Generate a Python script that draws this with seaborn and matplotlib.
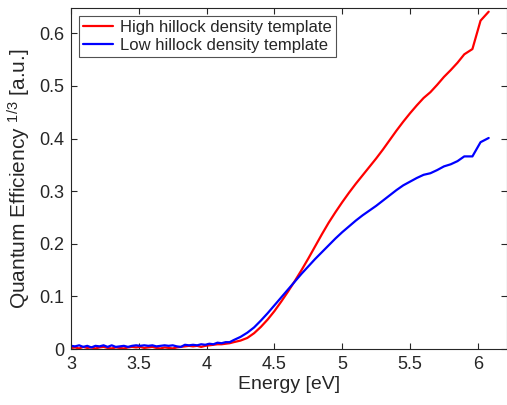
import numpy as np
import pandas as pd
import matplotlib
matplotlib.use("Agg")
import matplotlib.pyplot as plt
import seaborn as sns

energy = [3.00, 3.03, 3.06, 3.09, 3.12, 3.15, 3.18, 3.21, 3.24, 3.27, 3.30, 3.33, 3.36, 3.39,
          3.42, 3.45, 3.48, 3.51, 3.54, 3.57, 3.60, 3.63, 3.66, 3.69, 3.72, 3.75, 3.78, 3.81,
          3.84, 3.87, 3.90, 3.93, 3.96, 3.99, 4.02, 4.05, 4.08, 4.11, 4.14, 4.17, 4.20,
          4.25, 4.30, 4.35, 4.40, 4.45, 4.50, 4.55, 4.60, 4.65, 4.70, 4.75, 4.80, 4.85,
          4.90, 4.95, 5.00, 5.05, 5.10, 5.15, 5.20, 5.25, 5.30, 5.35, 5.40, 5.45, 5.50,
          5.55, 5.60, 5.65, 5.70, 5.75, 5.80, 5.85, 5.90, 5.96, 6.02, 6.08]

high_density = [0.002, 0.003, 0.001, 0.004, 0.002, 0.003, 0.001, 0.003, 0.004, 0.002, 0.001,
                0.003, 0.002, 0.001, 0.003, 0.004, 0.003, 0.004, 0.002, 0.003, 0.004, 0.002,
                0.001, 0.003, 0.002, 0.001, 0.003, 0.004, 0.005, 0.006, 0.005, 0.006, 0.004,
                0.006, 0.007, 0.008, 0.009, 0.009, 0.010, 0.011, 0.013,
                0.016, 0.021, 0.030, 0.042, 0.056, 0.072, 0.090, 0.109, 0.129, 0.150, 0.172,
                0.195, 0.218, 0.240, 0.260, 0.279, 0.297, 0.314, 0.330, 0.346, 0.362, 0.379,
                0.397, 0.415, 0.432, 0.448, 0.463, 0.477, 0.488, 0.502, 0.517, 0.530, 0.544,
                0.560, 0.570, 0.624, 0.641]

low_density = [0.006, 0.005, 0.007, 0.004, 0.006, 0.003, 0.006, 0.005, 0.007, 0.004, 0.007,
               0.004, 0.005, 0.006, 0.004, 0.006, 0.007, 0.006, 0.007, 0.006, 0.007, 0.005,
               0.006, 0.007, 0.006, 0.007, 0.005, 0.004, 0.008, 0.007, 0.008, 0.007, 0.009,
               0.008, 0.010, 0.009, 0.012, 0.011, 0.013, 0.013, 0.017,
               0.023, 0.031, 0.041, 0.054, 0.068, 0.083, 0.098, 0.113, 0.128, 0.143, 0.157,
               0.171, 0.184, 0.197, 0.210, 0.222, 0.233, 0.244, 0.254, 0.263, 0.272, 0.282,
               0.292, 0.302, 0.311, 0.318, 0.325, 0.331, 0.334, 0.340, 0.347, 0.351, 0.357,
               0.366, 0.366, 0.393, 0.401]

labels = ["High hillock density template", "Low hillock density template"]

df = pd.DataFrame({
    "Energy": energy * 2,
    "QE": high_density + low_density,
    "Sample": [labels[0]] * len(energy) + [labels[1]] * len(energy),
})

sns.set_style("white")
plt.rcParams["font.family"] = ["Liberation Sans", "DejaVu Sans"]
plt.rcParams["mathtext.fontset"] = "custom"
plt.rcParams["mathtext.rm"] = "Liberation Sans"
plt.rcParams["mathtext.it"] = "Liberation Sans"

fig = plt.figure(figsize=(5.07, 4.05), dpi=100)
ax = fig.add_axes([71 / 507, 1 - 349 / 405, (507 - 71) / 507, (349 - 8) / 405])

sns.lineplot(data=df, x="Energy", y="QE", hue="Sample",
             palette={labels[0]: "#ff0000", labels[1]: "#0000ff"},
             linewidth=1.6, ax=ax, estimator=None, sort=False)

ax.set_xlim(3, 6.215)
ax.set_ylim(0, 0.648)
ax.set_xticks([3, 3.5, 4, 4.5, 5, 5.5, 6])
ax.set_xticklabels(["3", "3.5", "4", "4.5", "5", "5.5", "6"])
ax.set_yticks([0, 0.1, 0.2, 0.3, 0.4, 0.5, 0.6])
ax.set_yticklabels(["0", "0.1", "0.2", "0.3", "0.4", "0.5", "0.6"])
ax.tick_params(direction="in", length=4, width=0.8, colors="#262626",
               labelsize=13, top=True, right=True, bottom=True, left=True,
               labelcolor="#262626", pad=5)
for s in ax.spines.values():
    s.set_visible(True)
    s.set_color("#262626")
    s.set_linewidth(0.8)

ax.set_xlabel("Energy [eV]", fontsize=14, color="#262626", labelpad=2)
ax.set_ylabel(r"Quantum Efficiency $^{1/3}$ [a.u.]", fontsize=15, color="#262626", labelpad=4)

leg = ax.legend(loc="upper left", bbox_to_anchor=(0.018, 0.9765), fontsize=12,
                frameon=True, fancybox=False, handlelength=1.8, handletextpad=0.4,
                borderpad=0.25, labelspacing=0.15, borderaxespad=0)
leg.get_frame().set_edgecolor("#262626")
leg.get_frame().set_linewidth(0.8)

fig.savefig("out.png", dpi=100)
